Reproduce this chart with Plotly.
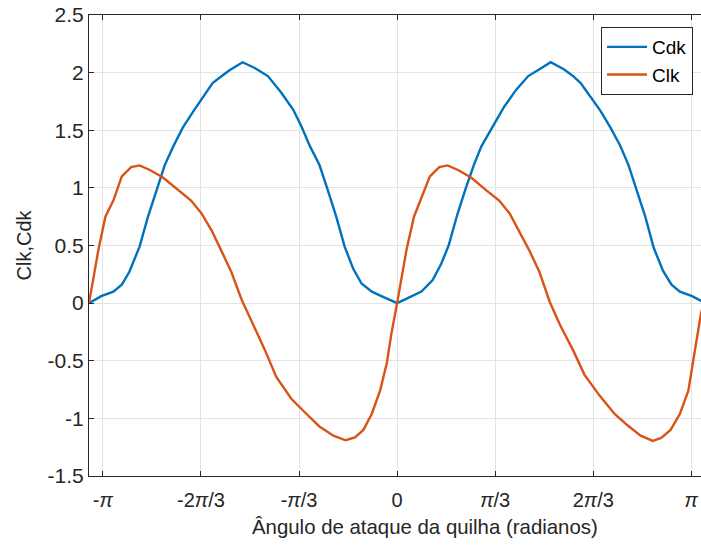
import numpy as np
import plotly.graph_objects as go

# Cdk series (x in radians)
cdk_x = [-3.29, -3.16, -3.03, -2.94, -2.86, -2.75, -2.66, -2.57, -2.48, -2.39, -2.29, -2.18,
         -2.07, -1.97, -1.89, -1.79, -1.65, -1.52, -1.38, -1.24, -1.11, -1.02, -0.93, -0.83,
         -0.74, -0.65, -0.56, -0.47, -0.38, -0.27, -0.15, 0.00,
         0.13, 0.26, 0.38, 0.47, 0.55, 0.64, 0.73, 0.82, 0.90, 1.02, 1.14, 1.27, 1.40, 1.52,
         1.64, 1.78, 1.88, 1.96, 2.06, 2.17, 2.28, 2.38, 2.47, 2.56, 2.65, 2.74, 2.84, 2.93,
         3.02, 3.15, 3.29]
cdk_y = [0.00, 0.06, 0.10, 0.16, 0.27, 0.49, 0.75, 0.98, 1.20, 1.36, 1.52, 1.66,
         1.79, 1.91, 1.96, 2.02, 2.09, 2.04, 1.97, 1.83, 1.68, 1.53, 1.36, 1.20,
         0.98, 0.75, 0.49, 0.30, 0.17, 0.10, 0.055, 0.00,
         0.05, 0.10, 0.20, 0.34, 0.50, 0.76, 0.99, 1.20, 1.36, 1.53, 1.70, 1.85, 1.97, 2.03,
         2.09, 2.03, 1.97, 1.91, 1.80, 1.67, 1.52, 1.37, 1.20, 0.98, 0.75, 0.48, 0.28, 0.16,
         0.10, 0.06, 0.00]

# Clk series (x in radians)
clk_x = [-3.29, -3.19, -3.115, -3.03, -2.94, -2.84, -2.75, -2.64, -2.50, -2.34, -2.20, -2.09,
         -1.98, -1.88, -1.77, -1.66, -1.54, -1.41, -1.29, -1.13, -0.97, -0.83, -0.68, -0.55,
         -0.45, -0.36, -0.27, -0.18, -0.11, -0.06, 0.00,
         0.10, 0.18, 0.26, 0.35, 0.45, 0.54, 0.65, 0.79, 0.95, 1.09, 1.20, 1.30, 1.41, 1.52,
         1.63, 1.74, 1.88, 2.00, 2.16, 2.32, 2.46, 2.60, 2.73, 2.82, 2.92, 3.02, 3.11, 3.18,
         3.245, 3.29]
clk_y = [0.00, 0.46, 0.75, 0.89, 1.10, 1.18, 1.195, 1.155, 1.09, 0.98, 0.89, 0.78,
         0.63, 0.46, 0.27, 0.03, -0.18, -0.41, -0.64, -0.83, -0.96, -1.07, -1.15, -1.19,
         -1.165, -1.10, -0.96, -0.755, -0.52, -0.26, 0.00,
         0.46, 0.75, 0.91, 1.10, 1.18, 1.195, 1.155, 1.09, 0.98, 0.89, 0.78, 0.63, 0.46, 0.27,
         0.01, -0.19, -0.41, -0.62, -0.80, -0.96, -1.06, -1.15, -1.195, -1.17, -1.10, -0.96, -0.76, -0.41,
         -0.09, 0.05]

x_tickvals = [-np.pi, -2*np.pi/3, -np.pi/3, 0, np.pi/3, 2*np.pi/3, np.pi]
x_ticktext = ["-<i>π</i>", "-2<i>π</i>/3", "-<i>π</i>/3", "0", "<i>π</i>/3", "2<i>π</i>/3", "<i>π</i>"]
y_tickvals = [-1.5, -1, -0.5, 0, 0.5, 1, 1.5, 2, 2.5]
y_ticktext = ["-1.5", "-1", "-0.5", "0", "0.5", "1", "1.5", "2", "2.5"]

FONT = "Liberation Sans, Arial, sans-serif"
AX = "#262626"

fig = go.Figure()
fig.add_trace(go.Scatter(x=cdk_x, y=cdk_y, mode="lines", name="Cdk",
                         line=dict(color="#0072BD", width=2.4)))
fig.add_trace(go.Scatter(x=clk_x, y=clk_y, mode="lines", name="Clk",
                         line=dict(color="#D95319", width=2.4)))

fig.update_layout(
    width=701, height=545,
    margin=dict(l=89, r=0, t=15, b=69),
    paper_bgcolor="white", plot_bgcolor="white",
    font=dict(family=FONT, size=20, color=AX),
    showlegend=True,
    legend=dict(x=0.987, y=0.974, xanchor="right", yanchor="top",
                bgcolor="white", bordercolor=AX, borderwidth=1,
                font=dict(size=19, color="black"), tracegroupgap=0,
                itemwidth=40),
    xaxis=dict(range=[-3.29, 3.245], tickvals=x_tickvals, ticktext=x_ticktext,
               showgrid=True, gridcolor="#e3e3e3", gridwidth=1,
               showline=True, linecolor=AX, linewidth=1, mirror="ticks",
               ticks="inside", ticklen=5, tickcolor=AX, zeroline=False,
               ticklabelstandoff=6,
               tickfont=dict(size=20, color=AX)),
    yaxis=dict(range=[-1.5, 2.5], tickvals=y_tickvals, ticktext=y_ticktext,
               showgrid=True, gridcolor="#e3e3e3", gridwidth=1,
               showline=True, linecolor=AX, linewidth=1,
               ticks="inside", ticklen=5, tickcolor=AX, zeroline=False,
               tickfont=dict(size=21, color=AX),
               title=dict(text="Clk,Cdk", font=dict(size=20, color=AX), standoff=10)),
)

fig.add_annotation(text="Ângulo de ataque da quilha (radianos)", xref="paper", yref="paper",
                   x=0.549, y=-0.1106, xanchor="center", yanchor="middle", showarrow=False,
                   font=dict(size=20.4, color=AX))

fig.write_html("out.html")
